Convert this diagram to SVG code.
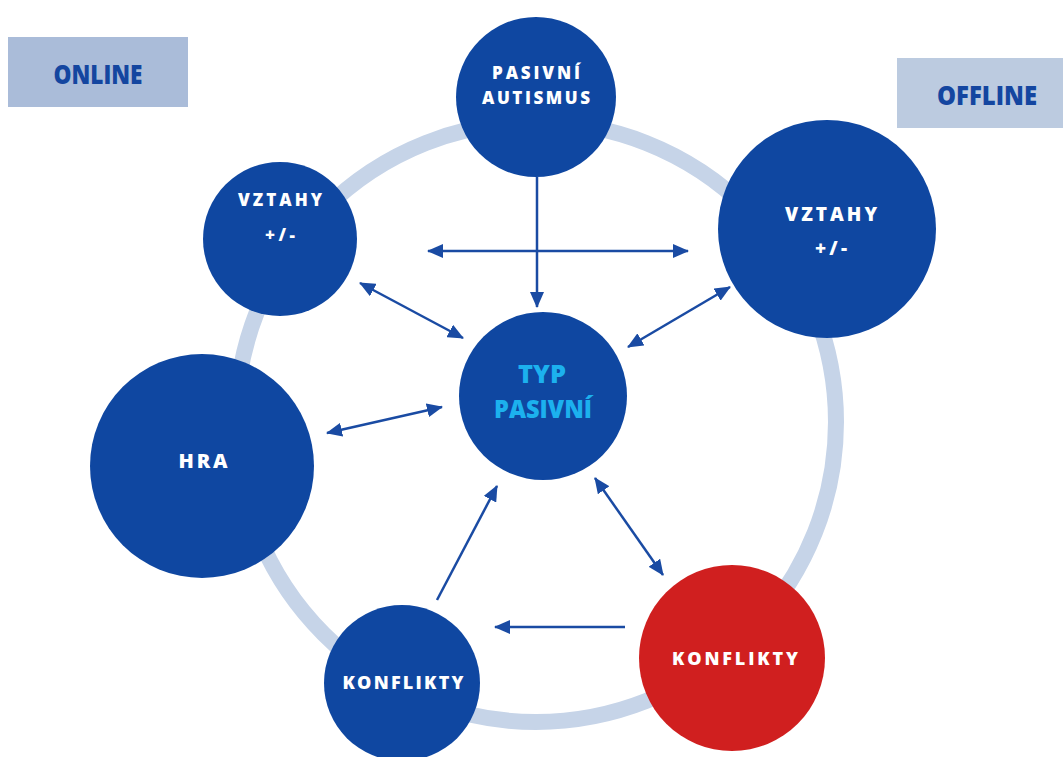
<svg xmlns="http://www.w3.org/2000/svg" width="1063" height="757" viewBox="0 0 1063 757">
  <defs>
    <marker id="ah" viewBox="0 0 16 14" refX="15" refY="7" markerWidth="16" markerHeight="14" markerUnits="userSpaceOnUse" orient="auto-start-reverse">
      <path d="M0,0 L16,7 L0,14 Z" fill="#1a4ba3"/>
    </marker>
  </defs>
  <style>
    .node { fill: #0f47a1; }
    .red { fill: #d01f1f; }
    .lbl { font-family: "Open Sans", "DejaVu Sans", sans-serif; font-weight: 800; fill: #ffffff; text-anchor: middle; }
    .typ { font-family: "Open Sans", "DejaVu Sans", sans-serif; font-weight: 800; fill: #1cb1ee; text-anchor: middle; }
    .tag { font-family: "Open Sans", "DejaVu Sans", sans-serif; font-weight: 800; fill: #1446a0; text-anchor: middle; }
    .conn line { stroke: #1a4ba3; stroke-width: 2.5; fill: none; }
  </style>
  <rect width="1063" height="757" fill="#ffffff"/>

  <circle id="ring" cx="536" cy="422" r="300" fill="none" stroke="#c6d4e8" stroke-width="16"/>

  <g id="online">
    <rect x="8" y="37" width="180" height="70" fill="#aabcd9"/>
    <text class="tag" x="98" y="84" font-size="26" textLength="89" lengthAdjust="spacingAndGlyphs">ONLINE</text>
  </g>
  <g id="offline">
    <rect x="897" y="58" width="166" height="70" fill="#bccbe0"/>
    <text class="tag" x="987" y="105" font-size="26" textLength="100" lengthAdjust="spacingAndGlyphs">OFFLINE</text>
  </g>

  <g id="connectors" class="conn">
    <line x1="537" y1="177" x2="537" y2="307" marker-end="url(#ah)"/>
    <line x1="428" y1="251" x2="688" y2="251" marker-start="url(#ah)" marker-end="url(#ah)"/>
    <line x1="360" y1="283" x2="463" y2="338" marker-start="url(#ah)" marker-end="url(#ah)"/>
    <line x1="730" y1="287" x2="628" y2="347" marker-start="url(#ah)" marker-end="url(#ah)"/>
    <line x1="327" y1="433" x2="442" y2="407" marker-start="url(#ah)" marker-end="url(#ah)"/>
    <line x1="595" y1="478" x2="663" y2="575" marker-start="url(#ah)" marker-end="url(#ah)"/>
    <line x1="437" y1="600" x2="497" y2="486" marker-end="url(#ah)"/>
    <line x1="625" y1="627" x2="495" y2="627" marker-end="url(#ah)"/>
  </g>

  <g id="pasivni-autismus">
    <circle class="node" cx="536" cy="97" r="80"/>
    <text class="lbl" x="536" y="79" font-size="17" textLength="88" lengthAdjust="spacing">PASIVNÍ</text>
    <text class="lbl" x="536" y="104" font-size="17" textLength="108" lengthAdjust="spacing">AUTISMUS</text>
  </g>

  <g id="vztahy-online">
    <circle class="node" cx="280" cy="239" r="77"/>
    <text class="lbl" x="280" y="206" font-size="17" textLength="84" lengthAdjust="spacing">VZTAHY</text>
    <text class="lbl" x="280" y="241" font-size="17" textLength="30" lengthAdjust="spacing">+/-</text>
  </g>

  <g id="vztahy-offline">
    <circle class="node" cx="827" cy="229" r="109"/>
    <text class="lbl" x="831" y="221" font-size="19" textLength="92" lengthAdjust="spacing">VZTAHY</text>
    <text class="lbl" x="831" y="255" font-size="19" textLength="32" lengthAdjust="spacing">+/-</text>
  </g>

  <g id="typ-pasivni">
    <circle class="node" cx="543" cy="396" r="84"/>
    <text class="typ" x="542" y="383" font-size="24" textLength="48" lengthAdjust="spacingAndGlyphs">TYP</text>
    <text class="typ" x="543" y="418" font-size="24" textLength="98" lengthAdjust="spacingAndGlyphs">PASIVNÍ</text>
  </g>

  <g id="hra">
    <circle class="node" cx="202" cy="466" r="112"/>
    <text class="lbl" x="203" y="468" font-size="20" textLength="49" lengthAdjust="spacing">HRA</text>
  </g>

  <g id="konflikty-online">
    <circle class="node" cx="402" cy="683" r="78"/>
    <text class="lbl" x="403" y="689" font-size="18" textLength="121" lengthAdjust="spacing">KONFLIKTY</text>
  </g>

  <g id="konflikty-offline">
    <circle class="red" cx="732" cy="658" r="93"/>
    <text class="lbl" x="735" y="665" font-size="18" textLength="126" lengthAdjust="spacing">KONFLIKTY</text>
  </g>
</svg>
